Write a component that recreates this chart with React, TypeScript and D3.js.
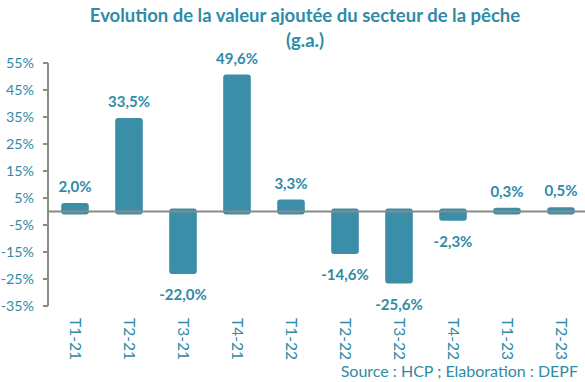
import React from "react";
import * as d3 from "d3";

const categories = ["T1-21", "T2-21", "T3-21", "T4-21", "T1-22", "T2-22", "T3-22", "T4-22", "T1-23", "T2-23"];
const values = [2.0, 33.5, -22.0, 49.6, 3.3, -14.6, -25.6, -2.3, 0.3, 0.5];
const yTicks = [55, 45, 35, 25, 15, 5, -5, -15, -25, -35];
const titleLines = ["Evolution de la valeur ajoutée du secteur de la pêche", "(g.a.)"];
const sourceText = "Source : HCP ; Elaboration : DEPF";

const W = 585;
const H = 382;
const TEAL = "#2f8ba6";
const BAR = "#3a8ea8";
const GREY = "#8a8a8a";
const FONT = "Lato, 'Open Sans', sans-serif";

export default function App() {
  const x = d3.scaleBand<string>().domain(categories).range([48, 588]).paddingInner(0.6).paddingOuter(0.3);
  const y = d3.scaleLinear().domain([-35, 55]).range([306, 63]);
  const fmt = (v: number) => (v < 0 ? "-" : "") + d3.format(".1f")(Math.abs(v)).replace(".", ",") + "%";
  const sw = 6;
  const bw = x.bandwidth();
  return (
    <svg width={W} height={H} style={{ position: "absolute", left: 0, top: 0 }} fontFamily={FONT}>
      <rect width={W} height={H} fill="#ffffff" />
      <text x={305} y={22} textAnchor="middle" fontSize={18.5} fontWeight={700} fill={TEAL}>{titleLines[0]}</text>
      <text x={305} y={47} textAnchor="middle" fontSize={18.5} fontWeight={700} fill={TEAL}>{titleLines[1]}</text>
      {/* y axis */}
      <line x1={48} x2={48} y1={y(55)} y2={y(-35)} stroke={GREY} strokeWidth={2} />
      {yTicks.map((t) => (
        <g key={t}>
          <line x1={43} x2={48} y1={y(t)} y2={y(t)} stroke={GREY} strokeWidth={2} />
          <text x={34} y={y(t)} dy="0.35em" textAnchor="end" fontSize={14.3} fill={TEAL}>{t + "%"}</text>
        </g>
      ))}
      {/* bars */}
      {categories.map((c, i) => {
        const v = values[i];
        const x0 = x(c)!;
        const top = y(Math.max(v, 0));
        const bot = y(Math.min(v, 0));
        const cx = x0 + bw / 2;
        return (
          <g key={c}>
            <rect x={x0} y={top} width={bw} height={Math.max(bot - top, 0.01)} fill={BAR} stroke={BAR} strokeWidth={sw} strokeLinejoin="round" />
            <text
              x={cx}
              y={v >= 0 ? top - sw / 2 - 11 : bot + sw / 2 + 26}
              textAnchor="middle"
              fontSize={15}
              fontWeight={700}
              fill={TEAL}
            >
              {fmt(v)}
            </text>
            <text
              transform={`translate(${cx},318) rotate(90)`}
              dy="0.35em"
              textAnchor="start"
              fontSize={15.5}
              fill={TEAL}
            >
              {c}
            </text>
          </g>
        );
      })}
      {/* zero line */}
      <line x1={48} x2={W} y1={y(0)} y2={y(0)} stroke={GREY} strokeWidth={2} />
      <text x={578} y={377} textAnchor="end" fontSize={16} fill={TEAL}>{sourceText}</text>
    </svg>
  );
}
